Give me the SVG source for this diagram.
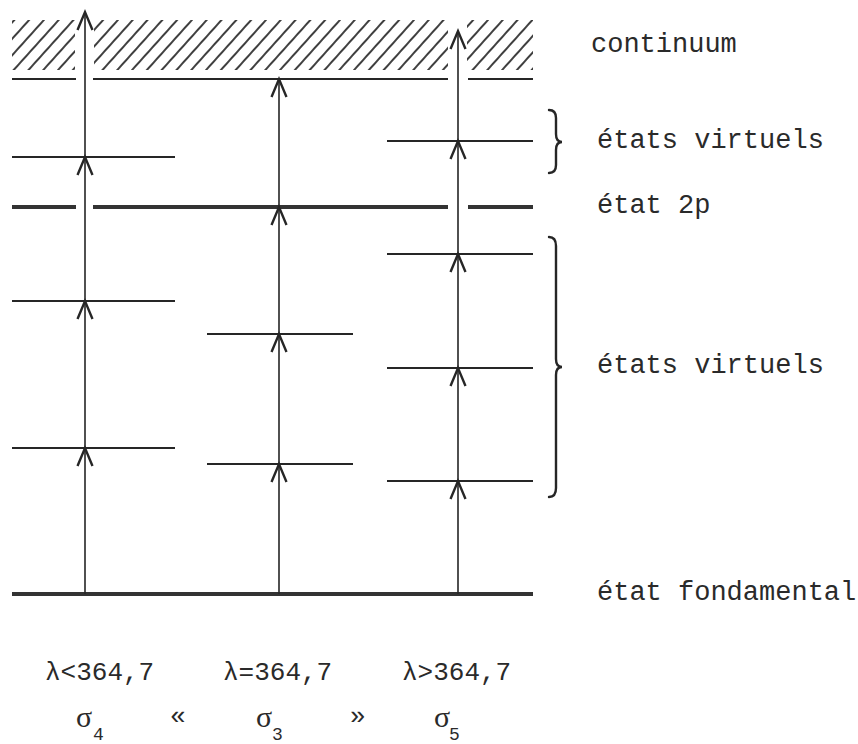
<svg xmlns="http://www.w3.org/2000/svg" xmlns:xlink="http://www.w3.org/1999/xlink" width="858" height="744" viewBox="0 0 858 744">
<style>
.lvl{stroke:#262626;stroke-width:2.2;fill:none}
.thick{stroke:#333;stroke-width:4;fill:none}
.arr{stroke:#262626;stroke-width:1.6;fill:none}
.hd{stroke:#262626;stroke-width:2.4;fill:none;stroke-linejoin:miter}
.br{stroke:#262626;stroke-width:2.4;fill:none;stroke-linecap:round}
.lbl{font-family:"Liberation Mono","DejaVu Sans Mono",monospace;font-size:27px;fill:#2a2a2a}
.lam{font-family:"Liberation Mono","DejaVu Sans Mono",monospace;font-size:26px;fill:#2a2a2a}
.sig{font-family:"Liberation Serif","DejaVu Serif",serif;font-size:30px;fill:#2a2a2a}
.sub{font-family:"Liberation Mono","DejaVu Sans Mono",monospace;font-size:18px;fill:#2a2a2a}
.gui{font-family:"Liberation Mono","DejaVu Sans Mono",monospace;font-size:26px;fill:#2a2a2a}
</style>
<defs>
<pattern id="hatch" width="11" height="11" patternUnits="userSpaceOnUse" patternTransform="rotate(42)">
<line x1="2" y1="0" x2="2" y2="11" stroke="#2a2a2a" stroke-width="1.8"/>
</pattern>
<clipPath id="hclip">
<rect x="12" y="20" width="63" height="50"/>
<rect x="94" y="20" width="354" height="50"/>
<rect x="467" y="20" width="66" height="50"/>
</clipPath>
<path id="h" class="hd" d="M-7.5,18 L0,0 L7.5,18"/>
</defs>
<rect width="858" height="744" fill="#fff"/>

<g id="continuum">
<rect x="12" y="20" width="521" height="50" fill="url(#hatch)" clip-path="url(#hclip)"/>
<path class="lvl" d="M12,79 H76 M93,79 H448 M468,79 H533"/>
<text class="lbl" x="591" y="52">continuum</text>
</g>

<g id="etat-2p">
<path class="thick" d="M12,207 H76 M93,207 H448 M468,207 H533"/>
<text class="lbl" x="597" y="213">état 2p</text>
</g>

<g id="fondamental">
<path class="thick" d="M12,594 H533"/>
<text class="lbl" x="597" y="600">état fondamental</text>
</g>

<g id="virtuels-gauche">
<path class="lvl" d="M12,157 H175 M12,301 H175 M12,448 H175"/>
</g>
<g id="virtuels-milieu">
<path class="lvl" d="M207,334 H353 M207,464 H353"/>
</g>
<g id="virtuels-droite">
<path class="lvl" d="M387,141 H533 M387,254 H533 M387,368 H533 M387,481 H533"/>
</g>

<g id="accolade-haut">
<path class="br" d="M549,110 Q556,110 556,118 L556,134 Q556,142 562,142 Q556,142 556,150 L556,165 Q556,173 549,173"/>
<text class="lbl" x="597" y="148">états virtuels</text>
</g>
<g id="accolade-bas">
<path class="br" d="M549,237 Q556,237 556,246 L556,359 Q556,367 562,367 Q556,367 556,375 L556,488 Q556,497 549,497"/>
<text class="lbl" x="597" y="373">états virtuels</text>
</g>

<g id="connectors">
<path class="arr" d="M85,594 V13 M279,594 V80 M458,594 V32"/>
<use xlink:href="#h" x="85" y="448"/>
<use xlink:href="#h" x="85" y="301"/>
<use xlink:href="#h" x="85" y="157"/>
<use xlink:href="#h" x="85" y="12"/>
<use xlink:href="#h" x="279" y="464"/>
<use xlink:href="#h" x="279" y="334"/>
<use xlink:href="#h" x="279" y="207"/>
<use xlink:href="#h" x="279" y="79"/>
<use xlink:href="#h" x="458" y="481"/>
<use xlink:href="#h" x="458" y="368"/>
<use xlink:href="#h" x="458" y="254"/>
<use xlink:href="#h" x="458" y="141"/>
<use xlink:href="#h" x="458" y="31"/>
</g>

<g id="legende">
<text class="lam" x="45" y="680">λ&lt;364,7</text>
<text class="lam" x="223" y="680">λ=364,7</text>
<text class="lam" x="402" y="680">λ&gt;364,7</text>
<text class="sig" x="76" y="727">σ</text><text class="sub" x="93" y="740">4</text>
<text class="gui" x="170" y="724">«</text>
<text class="sig" x="256" y="727">σ</text><text class="sub" x="272" y="740">3</text>
<text class="gui" x="350" y="724">»</text>
<text class="sig" x="434" y="727">σ</text><text class="sub" x="449" y="740">5</text>
</g>
</svg>
